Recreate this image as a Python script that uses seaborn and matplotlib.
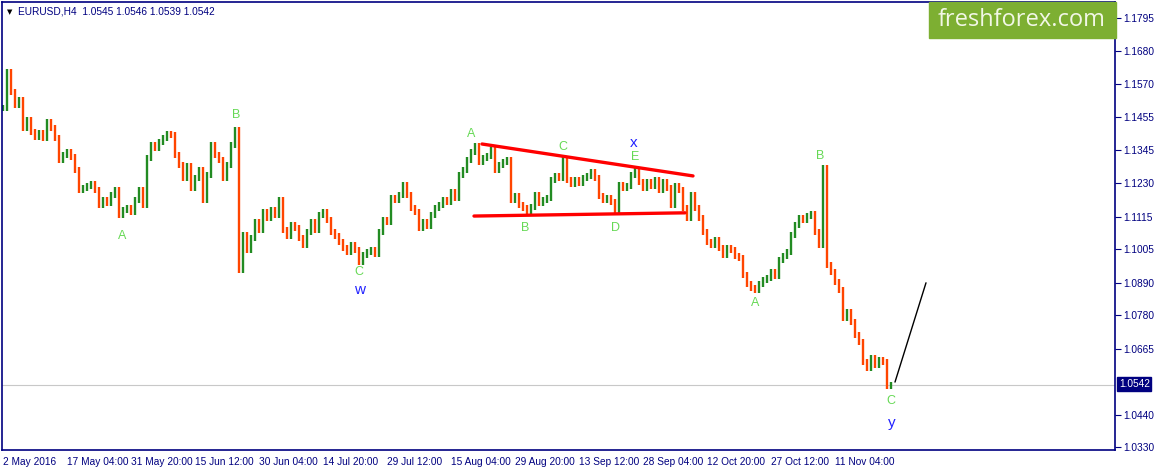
import numpy as np
import pandas as pd
import matplotlib
matplotlib.use('Agg')
import matplotlib.pyplot as plt
import seaborn as sns

# EURUSD H4 closes, every 4 bars
closes = [1.1487, 1.1610, 1.1542, 1.1497, 1.1515, 1.1419, 1.1446, 1.1405, 1.1388, 1.1402,
          1.1385, 1.1439, 1.1419, 1.1385, 1.1310, 1.1327, 1.1337, 1.1320, 1.1275, 1.1207,
          1.1214, 1.1221, 1.1228, 1.1207, 1.1156, 1.1173, 1.1163, 1.1190, 1.1207, 1.1122,
          1.1139, 1.1146, 1.1132, 1.1173, 1.1207, 1.1156, 1.1316, 1.1361, 1.1351, 1.1371,
          1.1385, 1.1398, 1.1395, 1.1327, 1.1293, 1.1248, 1.1289, 1.1214, 1.1248, 1.1275,
          1.1173, 1.1258, 1.1361, 1.1327, 1.1310, 1.1248, 1.1293, 1.1361, 1.1412, 1.0934,
          1.1054, 1.1002, 1.1043, 1.1098, 1.1071, 1.1132, 1.1112, 1.1139, 1.1122, 1.1173,
          1.1071, 1.1050, 1.1088, 1.1077, 1.1043, 1.1019, 1.1064, 1.1098, 1.1071, 1.1122,
          1.1132, 1.1105, 1.1064, 1.1050, 1.1030, 1.1009, 1.0995, 1.1019, 1.1002, 1.0961,
          1.0985, 1.0995, 1.1002, 1.0989, 1.1064, 1.1105, 1.1098, 1.1180, 1.1173, 1.1190,
          1.1224, 1.1190, 1.1146, 1.1132, 1.1077, 1.1098, 1.1084, 1.1122, 1.1146, 1.1156,
          1.1173, 1.1166, 1.1200, 1.1180, 1.1258, 1.1275, 1.1310, 1.1337, 1.1357, 1.1303,
          1.1316, 1.1323, 1.1344, 1.1275, 1.1293, 1.1303, 1.1310, 1.1173, 1.1187, 1.1156,
          1.1146, 1.1132, 1.1149, 1.1190, 1.1163, 1.1173, 1.1180, 1.1241, 1.1255, 1.1248,
          1.1310, 1.1241, 1.1228, 1.1241, 1.1231, 1.1248, 1.1255, 1.1269, 1.1248, 1.1187,
          1.1173, 1.1180, 1.1166, 1.1139, 1.1224, 1.1214, 1.1221, 1.1258, 1.1275, 1.1235,
          1.1214, 1.1235, 1.1221, 1.1241, 1.1207, 1.1235, 1.1214, 1.1156, 1.1221, 1.1207,
          1.1146, 1.1112, 1.1190, 1.1146, 1.1112, 1.1064, 1.1030, 1.1019, 1.1036, 1.1009,
          1.0985, 1.1009, 1.1002, 1.0982, 1.0975, 1.0917, 1.0886, 1.0873, 1.0866, 1.0886,
          1.0900, 1.0907, 1.0927, 1.0913, 1.0968, 1.0982, 1.0995, 1.1054, 1.1088, 1.1112,
          1.1105, 1.1118, 1.1125, 1.1064, 1.1019, 1.1282, 1.0951, 1.0927, 1.0893, 1.0866,
          1.0770, 1.0791, 1.0756, 1.0712, 1.0688, 1.0620, 1.0599, 1.0633, 1.0610, 1.0627,
          1.0620, 1.0538, 1.0542]
bar_step = 4
last_price = 1.0542

# triangle (X wave) boundaries and projection line
upper_x = [478.7, 689.7]
upper_y = [1.1364, 1.1255]
lower_x = [470.7, 681.7]
lower_y = [1.1118, 1.1129]
proj_x = [891.7, 922.7]
proj_y = [1.0551, 1.0890]

# wave labels
wave_txt = ['A', 'B', 'C', 'A', 'B', 'C', 'D', 'E', 'A', 'B', 'C']
wave_x = [118.7, 232.7, 355.7, 467.7, 521.7, 559.7, 611.7, 631.7, 751.7, 816.7, 887.7]
wave_y = [1.1050, 1.1463, 1.0927, 1.1398, 1.1077, 1.1354, 1.1077, 1.1320, 1.0821, 1.1323, 1.0487]
deg_txt = ['w', 'x', 'y']
deg_x = [356.7, 630.7, 888.7]
deg_y = [1.0866, 1.1368, 1.0412]

xtick_pos = [0, 64, 128, 192, 256, 320, 384, 448, 512, 576, 640, 704, 768, 832]
xtick_lab = ['2 May 2016', '17 May 04:00', '31 May 20:00', '15 Jun 12:00', '30 Jun 04:00',
             '14 Jul 20:00', '29 Jul 12:00', '15 Aug 04:00', '29 Aug 20:00', '13 Sep 12:00',
             '28 Sep 04:00', '12 Oct 20:00', '27 Oct 12:00', '11 Nov 04:00']
ytick_val = [1.1795, 1.1680, 1.1570, 1.1455, 1.1345, 1.1230, 1.1115, 1.1005,
             1.0890, 1.0780, 1.0665, 1.0440, 1.0330]

navy = '#000080'
up_col = '#228B22'
dn_col = '#FF4500'

sns.set_style('white')
plt.rcParams['font.family'] = ['Liberation Sans', 'DejaVu Sans']

df = pd.DataFrame({'bar': np.arange(len(closes)) * bar_step, 'close': closes})
df['open'] = df['close'].shift(1).fillna(df['close'])
wick = 0.0010
df['lo'] = df[['open', 'close']].min(axis=1) - wick
df['hi'] = df[['open', 'close']].max(axis=1) + wick
df['col'] = np.where(df['close'] >= df['open'], up_col, dn_col)

fig = plt.figure(figsize=(11.55, 4.71), dpi=100)
ax = fig.add_axes([2 / 1155, 1 - 450 / 471, 1113 / 1155, 448 / 471])

ax.axhline(last_price, color='#C8C8C8', lw=0.8, zorder=1)
ax.vlines(df['bar'], df['lo'], df['hi'], colors=df['col'], lw=1.7, zorder=2)

sns.lineplot(x=upper_x, y=upper_y, color='#FF0000', lw=2.4, ax=ax, zorder=3)
sns.lineplot(x=lower_x, y=lower_y, color='#FF0000', lw=2.4, ax=ax, zorder=3)
sns.lineplot(x=proj_x, y=proj_y, color='black', lw=1.0, ax=ax, zorder=3)

for t, x, y in zip(wave_txt, wave_x, wave_y):
    ax.text(x, y, t, color='#66D955', fontsize=9, ha='center', va='center')
for t, x, y in zip(deg_txt, deg_x, deg_y):
    ax.text(x, y, t, color='#2222FF', fontsize=11, ha='center', va='center')

ax.set_xlim(-1.3, 1111.7)
ax.set_ylim(1.0319, 1.1849)

ax.set_xticks(xtick_pos)
ax.set_xticklabels(xtick_lab, ha='left')
ax.yaxis.tick_right()
ax.set_yticks(ytick_val)
ax.set_yticklabels([f'{v:.4f}' for v in ytick_val])
ax.tick_params(axis='x', direction='out', length=4, width=0.8, color=navy,
               labelcolor=navy, labelsize=7.3, pad=1)
ax.tick_params(axis='y', direction='out', length=4, width=0.8, color=navy,
               labelcolor=navy, labelsize=7.3, pad=2)
for s in ax.spines.values():
    s.set_color(navy)
    s.set_linewidth(1.2)

# header
ax.text(5 / 1113, 1 - 10 / 448, '\u25bc', transform=ax.transAxes, fontsize=5,
        color='black', va='center', ha='left', family='DejaVu Sans')
ax.text(16 / 1113, 1 - 10 / 448, 'EURUSD,H4  1.0545 1.0546 1.0539 1.0542',
        transform=ax.transAxes, fontsize=7.3, color=navy, va='center', ha='left')

# logo
fig.patches.append(plt.Rectangle((929 / 1155, 1 - 38 / 471), 187 / 1155, 36 / 471,
                                 transform=fig.transFigure, color='#7DAF32', zorder=5))
fig.text(1022 / 1155, 1 - 20 / 471, 'freshforex.com', fontsize=17, color='#F2F7E6',
         ha='center', va='center', family='Open Sans', zorder=6)

# current price box
fig.text(1119 / 1155, 1 - 384 / 471, '1.0542', fontsize=7.3, color='white',
         ha='left', va='center',
         bbox=dict(boxstyle='square,pad=0.15', fc=navy, ec=navy), zorder=6)

fig.savefig('out.png', dpi=100)
